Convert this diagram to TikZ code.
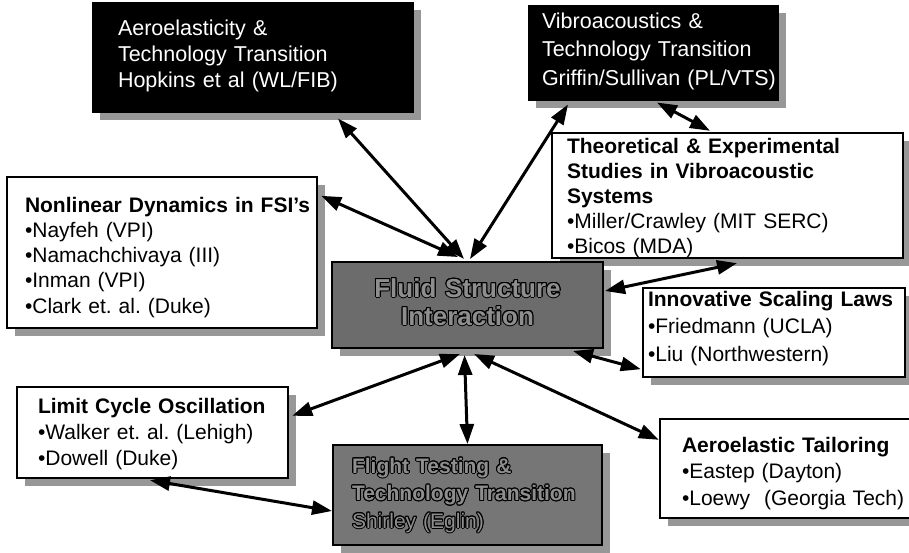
\documentclass[tikz,border=0pt]{standalone}
\usepackage{fontspec}
\setmainfont{Liberation Sans}
\usepackage{contour}
\contourlength{1pt}
\usetikzlibrary{arrows.meta,shadows}

\definecolor{hubfill}{HTML}{6C6C6C}
\definecolor{flightfill}{HTML}{767676}
\definecolor{shadefill}{HTML}{979797}
\definecolor{letterfill}{HTML}{8E8E8E}

\tikzset{
  panel/.style={inner ysep=0pt, align=left, font=\fontsize{21}{25}\selectfont,
    drop shadow={shadow xshift=8pt, shadow yshift=-8pt, fill=shadefill, opacity=1}},
  whitebox/.style={panel, draw=black, line width=2.4pt, fill=white},
  blackbox/.style={panel, draw=black, line width=1pt, fill=black, text=white,
    font=\fontsize{21.5}{26}\selectfont},
  greybox/.style={panel, draw=black, line width=2pt, text=letterfill},
  link/.style={{Triangle[length=20pt,width=14pt]}-{Triangle[length=20pt,width=14pt]},
    line width=3pt}
}

\begin{document}
\frenchspacing
\begin{tikzpicture}[x=1pt,y=-1pt]
\fill[white] (0,0) rectangle (909,552);
\useasboundingbox (0,0) rectangle (909,552);

% funded efforts around the central topic
\node[blackbox, inner xsep=26pt, text width=269pt, text height=33pt, text depth=77pt]
  (aero) at (252.5,57)
  {Aeroelasticity \&\\Technology Transition\\Hopkins et al (WL/FIB)};

\node[blackbox, font=\fontsize{21.5}{28.5}\selectfont, inner xsep=14pt, text width=222pt,
  text height=23pt, text depth=72pt]
  (vibro) at (653,52.5)
  {Vibroacoustics \&\\Technology Transition\\\mbox{Griffin/Sullivan (PL/VTS)}};

\node[whitebox, inner xsep=15pt, text width=321pt, text height=20pt, text depth=105pt]
  (theory) at (727.5,195.5)
  {\textbf{Theoretical \& Experimental}\\\textbf{Studies in Vibroacoustic}\\\textbf{Systems}\\%
   •Miller/Crawley (MIT SERC)\\•Bicos (MDA)};

\node[whitebox, font=\fontsize{21}{25.3}\selectfont, inner xsep=18pt, text width=274pt,
  text height=35pt, text depth=116pt]
  (nonlin) at (162,252.5)
  {\mbox{\textbf{Nonlinear Dynamics in FSI’s}}\\•Nayfeh (VPI)\\•Namachchivaya (III)\\%
   •Inman (VPI)\\•Clark et. al. (Duke)};

\node[greybox, fill=hubfill, align=center, font=\bfseries\fontsize{26}{28}\selectfont,
  inner xsep=5pt, text width=261pt, text height=35pt, text depth=51pt]
  (hub) at (467.5,305)
  {\contour{black}{Fluid Structure}\\\contour{black}{Interaction}};

\node[whitebox, font=\fontsize{21}{27.5}\selectfont, inner xsep=5pt, text width=252pt,
  text height=18pt, text depth=71pt]
  (scaling) at (774,332.5)
  {\textbf{Innovative Scaling Laws}\\•Friedmann (UCLA)\\•Liu (Northwestern)};

\node[whitebox, font=\fontsize{21}{26}\selectfont, inner xsep=21pt, text width=229pt,
  text height=26pt, text depth=65pt]
  (lco) at (152.5,432.5)
  {\textbf{Limit Cycle Oscillation}\\•Walker et. al. (Lehigh)\\•Dowell (Duke)};

\node[greybox, fill=flightfill, font=\fontsize{21}{27.5}\selectfont, inner xsep=19pt,
  text width=231pt, text height=28pt, text depth=72pt]
  (flight) at (467.5,495)
  {\textbf{\contour{black}{Flight Testing \&}}\\\textbf{\contour{black}{Technology Transition}}\\%
   \contour{black}{Shirley (Eglin)}};

\node[whitebox, font=\fontsize{21}{26.5}\selectfont, inner xsep=22pt, text width=211pt,
  text height=33pt, text depth=66pt]
  (tailor) at (787.5,468.5)
  {\textbf{Aeroelastic Tailoring}\\•Eastep (Dayton)\\\mbox{•Loewy~ (Georgia Tech)}};

% two-way links
\draw[link] ([shift={(85.5,6)}]aero.south) -- ([shift={(-3.5,-2)}]hub.north);
\draw[link] ([shift={(-85,4)}]vibro.south) -- ([shift={(2.5,-2)}]hub.north);
\draw[link] ([shift={(4,2)}]vibro.south) -- ([shift={(-17.5,-1)}]theory.north);
\draw[link] ([shift={(3,20)}]nonlin.north east) -- ([shift={(-9.5,-4)}]hub.north);
\draw[link] ([shift={(1,-14)}]hub.east) -- ([shift={(9.5,4)}]theory.south);
\draw[link] ([shift={(-31,2)}]hub.south east) -- ([shift={(-1,-9)}]scaling.south west);
\draw[link] ([shift={(-7.5,5)}]hub.south) -- ([shift={(3,30)}]lco.north east);
\draw[link] ([shift={(-3,6)}]hub.south) -- (flight.north);
\draw[link] ([shift={(6.5,5)}]hub.south) -- ([shift={(0,22)}]tailor.north west);
\draw[link] ([shift={(-2.5,1)}]lco.south) -- ([shift={(0,16)}]flight.west);
\end{tikzpicture}
\end{document}
